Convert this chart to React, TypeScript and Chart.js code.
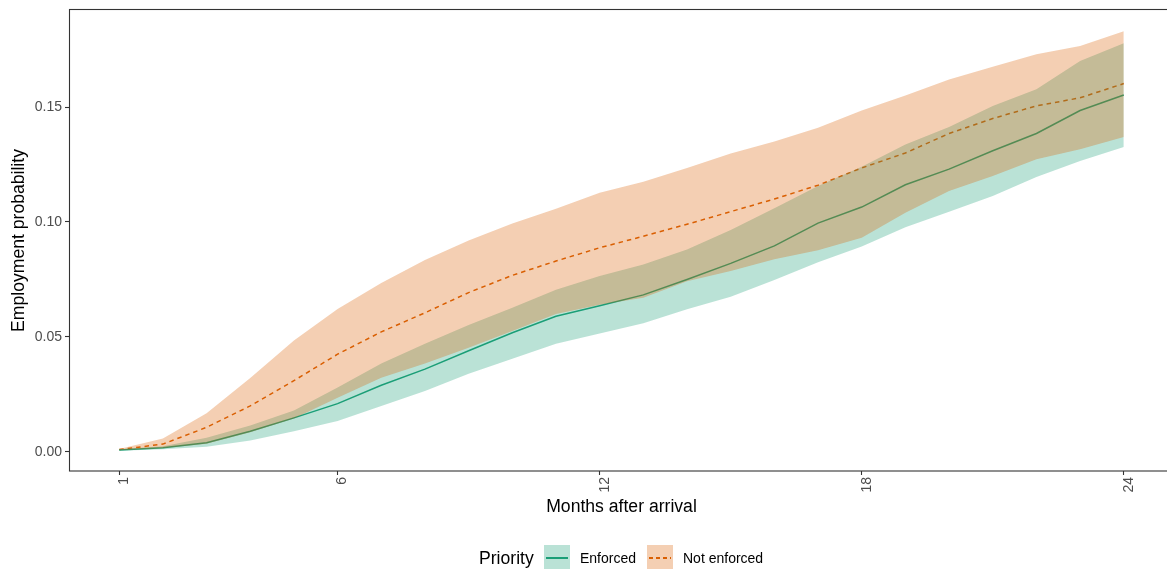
import React, { useEffect, useRef } from "react";
import { Chart, registerables } from "chart.js";

Chart.register(...registerables);

// ---- Data ----
const months = [1, 2, 3, 4, 5, 6, 7, 8, 9, 10, 11, 12, 13, 14, 15, 16, 17, 18, 19, 20, 21, 22, 23, 24];

const enforcedMean = [0.0008, 0.0018, 0.004, 0.009, 0.0148, 0.021, 0.029, 0.036, 0.044, 0.0518, 0.059, 0.0636, 0.0683, 0.075, 0.082, 0.0896, 0.0995, 0.1065, 0.1162, 0.123, 0.131, 0.1385, 0.1485, 0.1552];
const enforcedLower = [0.0005, 0.0012, 0.0022, 0.005, 0.009, 0.0135, 0.02, 0.0265, 0.034, 0.0405, 0.047, 0.0515, 0.056, 0.062, 0.0675, 0.0748, 0.0825, 0.0893, 0.0977, 0.1045, 0.1113, 0.1196, 0.1265, 0.1326];
const enforcedUpper = [0.0012, 0.0025, 0.0062, 0.0115, 0.018, 0.028, 0.0385, 0.047, 0.0552, 0.0627, 0.0705, 0.0765, 0.0815, 0.088, 0.0965, 0.106, 0.1157, 0.124, 0.1337, 0.1413, 0.1505, 0.1577, 0.17, 0.1777];

const notEnforcedMean = [0.001, 0.0034, 0.0107, 0.02, 0.031, 0.0425, 0.0522, 0.0605, 0.0693, 0.0768, 0.083, 0.0888, 0.0938, 0.099, 0.1045, 0.11, 0.116, 0.1235, 0.13, 0.1385, 0.145, 0.1505, 0.154, 0.1602];
const notEnforcedLower = [0.0007, 0.0016, 0.0036, 0.0085, 0.0145, 0.0236, 0.0323, 0.0385, 0.0453, 0.0526, 0.06, 0.064, 0.067, 0.0742, 0.0787, 0.0838, 0.0877, 0.0932, 0.104, 0.1135, 0.12, 0.1273, 0.1316, 0.137];
const notEnforcedUpper = [0.0013, 0.0058, 0.0168, 0.0322, 0.0485, 0.0622, 0.0735, 0.0835, 0.092, 0.0993, 0.1058, 0.1127, 0.1175, 0.1235, 0.1298, 0.135, 0.141, 0.1485, 0.155, 0.162, 0.1675, 0.173, 0.1765, 0.183];

const xTickValues = [1, 6, 12, 18, 24];
const yTickValues = [0, 0.05, 0.1, 0.15];
const seriesNames = ["Enforced", "Not enforced"];
const legendTitle = "Priority";
const xTitle = "Months after arrival";
const yTitle = "Employment probability";

// ---- Styles ----
const FONT = '"Liberation Sans", Arial, Helvetica, sans-serif';
const GREEN = "#1B9E77";
const ORANGE = "#D95F02";
const GREEN_FILL = "rgba(27,158,119,0.3)";
const ORANGE_FILL = "rgba(217,95,2,0.3)";

const toPoints = (arr: number[]) => months.map((m, i) => ({ x: m, y: arr[i] }));

export default function App() {
  const ref = useRef<HTMLCanvasElement>(null);

  useEffect(() => {
    const canvas = ref.current;
    if (!canvas) return;

    const panelFrame = {
      id: "panelFrame",
      afterDatasetsDraw(chart: any) {
        const { ctx, chartArea: a } = chart;
        ctx.save();
        ctx.strokeStyle = "#333333";
        ctx.lineWidth = 1.1;
        ctx.strokeRect(a.left + 0.5, a.top - 0.5, a.right - a.left, a.bottom - a.top + 0.5);
        ctx.restore();
      },
    };

    const invisible = {
      borderWidth: 0,
      pointRadius: 0,
      fill: false,
      borderColor: "rgba(0,0,0,0)",
      backgroundColor: "rgba(0,0,0,0)",
    };

    const chart = new Chart(canvas, {
      type: "line",
      data: {
        datasets: [
          { label: "neLower", data: toPoints(notEnforcedLower), order: 0, ...invisible } as any,
          {
            label: "neUpper",
            data: toPoints(notEnforcedUpper),
            order: 0,
            borderWidth: 0,
            pointRadius: 0,
            borderColor: "rgba(0,0,0,0)",
            backgroundColor: ORANGE_FILL,
            fill: "-1",
          },
          { label: "eLower", data: toPoints(enforcedLower), order: 1, ...invisible } as any,
          {
            label: "eUpper",
            data: toPoints(enforcedUpper),
            order: 1,
            borderWidth: 0,
            pointRadius: 0,
            borderColor: "rgba(0,0,0,0)",
            backgroundColor: GREEN_FILL,
            fill: "-1",
          },
          {
            label: seriesNames[0],
            data: toPoints(enforcedMean),
            order: 2,
            borderColor: GREEN,
            borderWidth: 1.5,
            pointRadius: 0,
            fill: false,
          },
          {
            label: seriesNames[1],
            data: toPoints(notEnforcedMean),
            order: 2,
            borderColor: ORANGE,
            borderWidth: 1.5,
            borderDash: [4.5, 4],
            pointRadius: 0,
            fill: false,
          },
        ],
      },
      options: {
        animation: false,
        responsive: false,
        maintainAspectRatio: false,
        devicePixelRatio: 1,
        layout: { padding: { top: 10, right: 6, left: 0, bottom: 0 } },
        plugins: {
          legend: { display: false },
          tooltip: { enabled: false },
        },
        elements: { line: { tension: 0 } },
        scales: {
          x: {
            type: "linear",
            min: -0.15,
            max: 25.15,
            afterBuildTicks: (s: any) => {
              s.ticks = xTickValues.map((v) => ({ value: v }));
            },
            afterFit: (s: any) => {
              s.height = 98;
              s.paddingLeft = 0;
              s.paddingRight = 0;
            },
            grid: {
              display: true,
              drawOnChartArea: false,
              drawTicks: true,
              tickLength: 4,
              tickColor: "#333333",
              tickWidth: 1.1,
            },
            border: { display: false },
            ticks: {
              autoSkip: false,
              maxRotation: 90,
              minRotation: 90,
              padding: 2,
              labelOffset: 5,
              color: "#4D4D4D",
              font: { family: FONT, size: 14 },
              callback: (v: any) => String(v),
            },
            title: {
              display: true,
              text: xTitle,
              color: "#000000",
              font: { family: FONT, size: 17.6 },
              padding: { top: 0, bottom: 51 },
            },
          },
          y: {
            type: "linear",
            min: -0.0083,
            max: 0.1922,
            afterBuildTicks: (s: any) => {
              s.ticks = yTickValues.map((v) => ({ value: v }));
            },
            afterFit: (s: any) => {
              s.width = 69;
              s.paddingTop = 0;
              s.paddingBottom = 0;
            },
            grid: {
              display: true,
              drawOnChartArea: false,
              drawTicks: true,
              tickLength: 4,
              tickColor: "#333333",
              tickWidth: 1.1,
            },
            border: { display: false },
            ticks: {
              padding: 3,
              color: "#4D4D4D",
              font: { family: FONT, size: 14 },
              callback: (v: any) => Number(v).toFixed(2),
            },
            title: {
              display: true,
              text: yTitle,
              color: "#000000",
              font: { family: FONT, size: 17.6 },
              padding: { top: 9, bottom: 9 },
            },
          },
        },
      },
      plugins: [panelFrame],
    } as any);

    return () => chart.destroy();
  }, []);

  const textStyle = (left: number, size: number, color: string): React.CSSProperties => ({
    position: "absolute",
    left,
    top: 548,
    height: 20,
    lineHeight: "20px",
    fontFamily: FONT,
    fontSize: size,
    color,
    whiteSpace: "nowrap",
  });

  const keyBox = (left: number, fill: string): React.CSSProperties => ({
    position: "absolute",
    left,
    top: 545,
    width: 26,
    height: 26,
    background: fill,
  });

  return (
    <div
      style={{
        position: "fixed",
        left: 0,
        top: 0,
        width: 1167,
        height: 569,
        overflow: "hidden",
        background: "#ffffff",
      }}
    >
      <canvas
        ref={ref}
        width={1180}
        height={569}
        style={{ position: "absolute", left: 0, top: 0, width: 1180, height: 569 }}
      />
      <span style={textStyle(479, 17.6, "#000000")}>{legendTitle}</span>
      <div style={keyBox(544, "#BAE2D6")}>
        <div
          style={{
            position: "absolute",
            left: 2,
            top: 12.3,
            width: 22,
            height: 1.4,
            background: GREEN,
          }}
        />
      </div>
      <span style={textStyle(580, 14, "#000000")}>{seriesNames[0]}</span>
      <div style={keyBox(647, "#F4CFB3")}>
        <div
          style={{
            position: "absolute",
            left: 2,
            top: 12.3,
            width: 22,
            height: 1.4,
            background: `repeating-linear-gradient(to right, ${ORANGE} 0px, ${ORANGE} 4px, transparent 4px, transparent 7px)`,
          }}
        />
      </div>
      <span style={textStyle(683, 14, "#000000")}>{seriesNames[1]}</span>
    </div>
  );
}
